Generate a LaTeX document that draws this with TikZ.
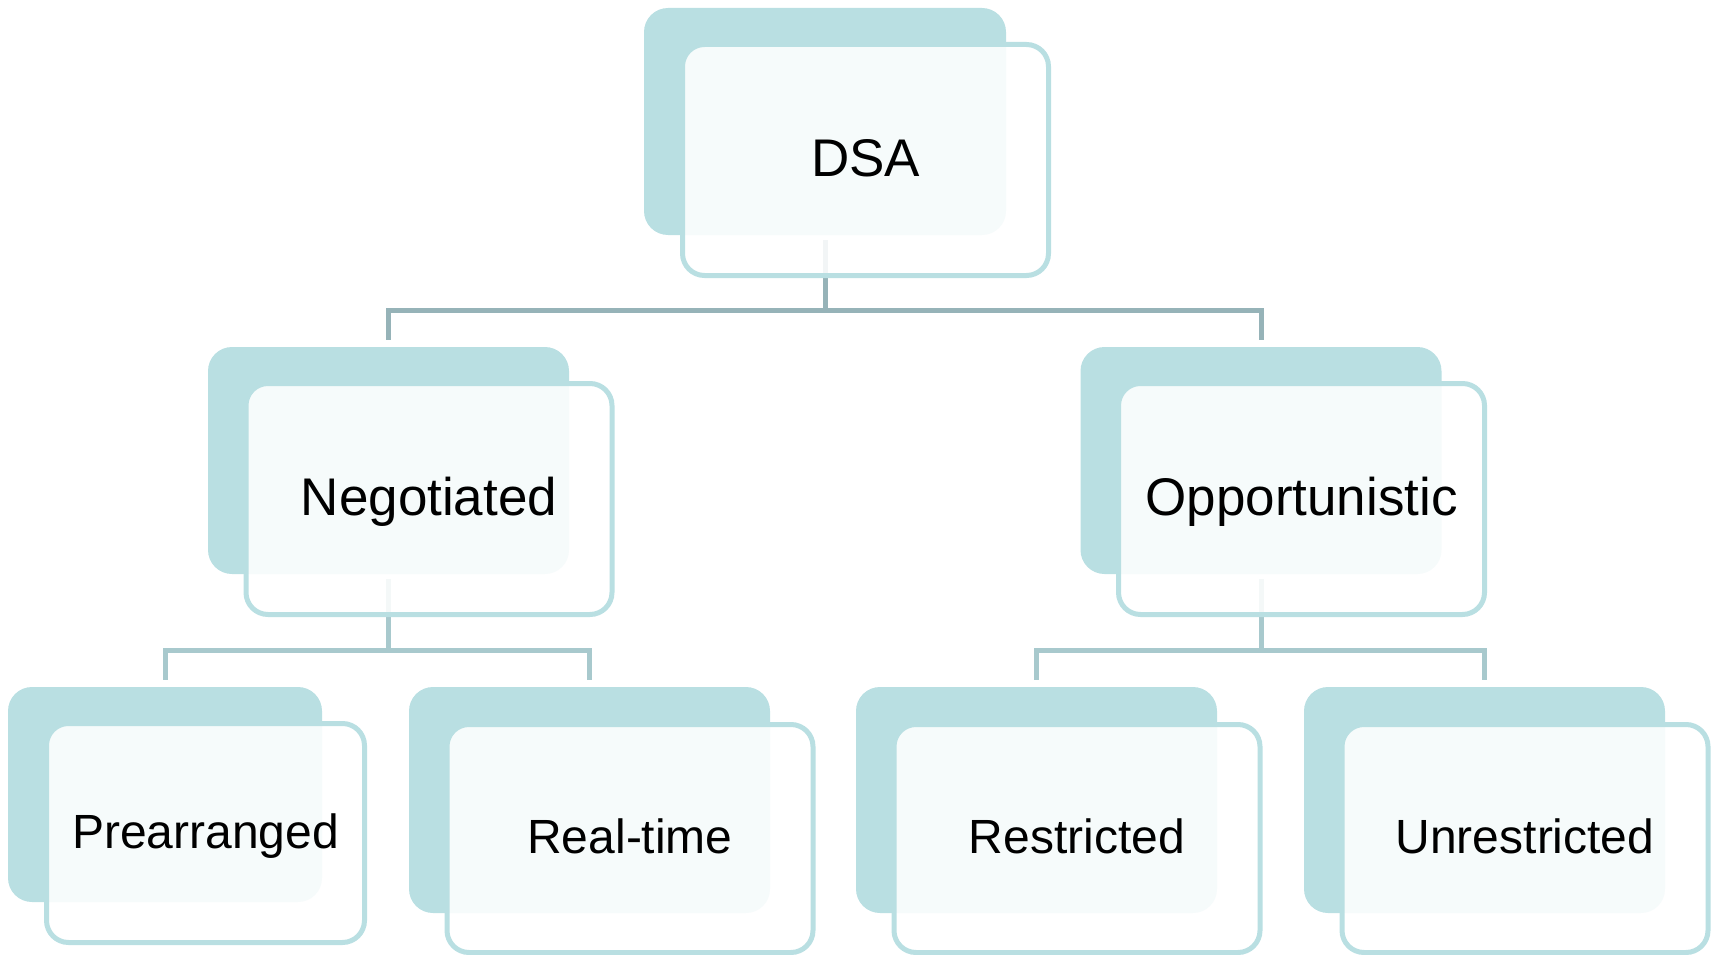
\documentclass[tikz,border=0pt]{standalone}
\usepackage{fontspec}
\setmainfont{Liberation Sans}
\usetikzlibrary{calc}
\definecolor{tealback}{RGB}{185,223,226}
\definecolor{linktop}{RGB}{150,179,184}
\definecolor{linklow}{RGB}{168,201,205}

\tikzset{
  backbox/.style={rectangle, rounded corners=24pt, fill=tealback, inner sep=0pt, outer sep=0pt},
  frontbox/.style={rectangle, rounded corners=22pt, draw=tealback, line width=5pt,
    fill=white, fill opacity=0.88, text opacity=1, inner sep=0pt, outer sep=0pt,
    text depth=0pt},
  bigtext/.style={font=\fontsize{53}{60}\selectfont, text height=33pt},
  smalltext/.style={font=\fontsize{48}{55}\selectfont, text height=30pt},
  link/.style={line width=5pt, shorten <=5pt, shorten >=7pt},
}

\begin{document}
\begin{tikzpicture}[x=1pt,y=-1pt]
\useasboundingbox (0,0) rectangle (1719,955);

% shadow panels behind each box
\node[backbox, minimum width=362, minimum height=227] (dsaB) at (825,121.5) {};
\node[backbox, minimum width=361, minimum height=227] (negB) at (388.5,460.5) {};
\node[backbox, minimum width=361, minimum height=227] (oppB) at (1261,460.5) {};
\node[backbox, minimum width=314, minimum height=215] (preB) at (165,794.5) {};
\node[backbox, minimum width=361, minimum height=226] (realB) at (589.5,800) {};
\node[backbox, minimum width=361, minimum height=226] (resB) at (1036.5,800) {};
\node[backbox, minimum width=361, minimum height=226] (unrB) at (1484.5,800) {};

% tree connectors
\draw[link, linktop] (dsaB.south) -- ++(0,75) -| (negB.north);
\draw[link, linktop] (dsaB.south) -- ++(0,75) -| (oppB.north);
\draw[link, linklow] (negB.south) -- ++(0,76) -| (preB.north);
\draw[link, linklow] (negB.south) -- ++(0,76) -| (realB.north);
\draw[link, linklow] (oppB.south) -- ++(0,76) -| (resB.north);
\draw[link, linklow] (oppB.south) -- ++(0,76) -| (unrB.north);

% labelled front panels
\node[frontbox, bigtext, minimum width=366, minimum height=231] (dsa) at ($(dsaB.center)+(40.5,38.5)$) {DSA};
\node[frontbox, bigtext, minimum width=366, minimum height=231] (neg) at ($(negB.center)+(40.5,38.5)$) {Negotiated};
\node[frontbox, bigtext, minimum width=366, minimum height=231] (opp) at ($(oppB.center)+(40.5,38.5)$) {Opportunistic};
\node[frontbox, smalltext, minimum width=318, minimum height=219] (pre) at ($(preB.center)+(40.5,38.5)$) {Prearranged};
\node[frontbox, smalltext, minimum width=366, minimum height=228] (real) at ($(realB.center)+(40.5,38.5)$) {Real-time};
\node[frontbox, smalltext, minimum width=366, minimum height=228] (res) at ($(resB.center)+(40.5,38.5)$) {Restricted};
\node[frontbox, smalltext, minimum width=366, minimum height=228] (unr) at ($(unrB.center)+(40.5,38.5)$) {Unrestricted};
\end{tikzpicture}
\end{document}
